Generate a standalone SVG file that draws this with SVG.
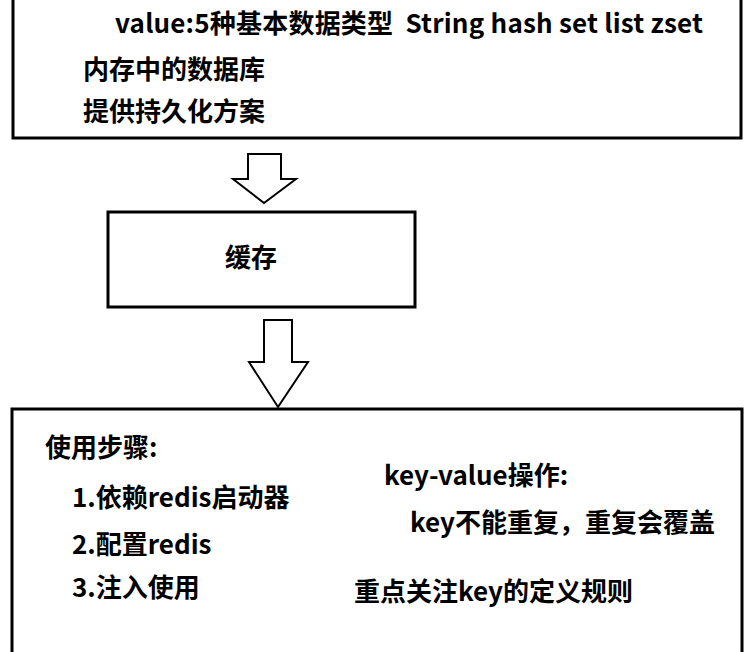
<svg xmlns="http://www.w3.org/2000/svg" width="756" height="652" viewBox="0 0 756 652">
<style>
.box{fill:#fff;stroke:#000;stroke-width:3}
.arr{fill:#fff;stroke:#000;stroke-width:2;stroke-linejoin:miter}
.t{font-family:"Noto Sans CJK SC","Microsoft YaHei",sans-serif;font-weight:bold;font-size:26px;fill:#000}
</style>
<rect width="756" height="652" fill="#fff"/>
<g id="redis">
<rect class="box" x="13" y="-10" width="728" height="148"/>
<text class="t" x="115" y="33" xml:space="preserve" textLength="588" lengthAdjust="spacing">value:5种基本数据类型  String hash set list zset</text>
<text class="t" x="83" y="79">内存中的数据库</text>
<text class="t" x="83" y="121">提供持久化方案</text>
</g>
<g id="cache">
<rect class="box" x="108" y="212" width="307" height="95"/>
<text class="t" x="225" y="267">缓存</text>
</g>
<g id="usage">
<rect class="box" x="12" y="409" width="730" height="260"/>
<text class="t" x="45" y="457">使用步骤:</text>
<text class="t" x="72" y="507">1.依赖redis启动器</text>
<text class="t" x="72" y="554">2.配置redis</text>
<text class="t" x="72" y="597">3.注入使用</text>
<text class="t" x="384" y="485">key-value操作:</text>
<text class="t" x="410" y="532">key不能重复，重复会覆盖</text>
<text class="t" x="354" y="601">重点关注key的定义规则</text>
</g>
<g id="connectors">
<polygon class="arr" points="248,154 281,154 281,179 296,179 264,203 233,179 248,179"/>
<polygon class="arr" points="264,320 292,320 292,362 308,362 278,407 249,362 264,362"/>
</g>
</svg>
